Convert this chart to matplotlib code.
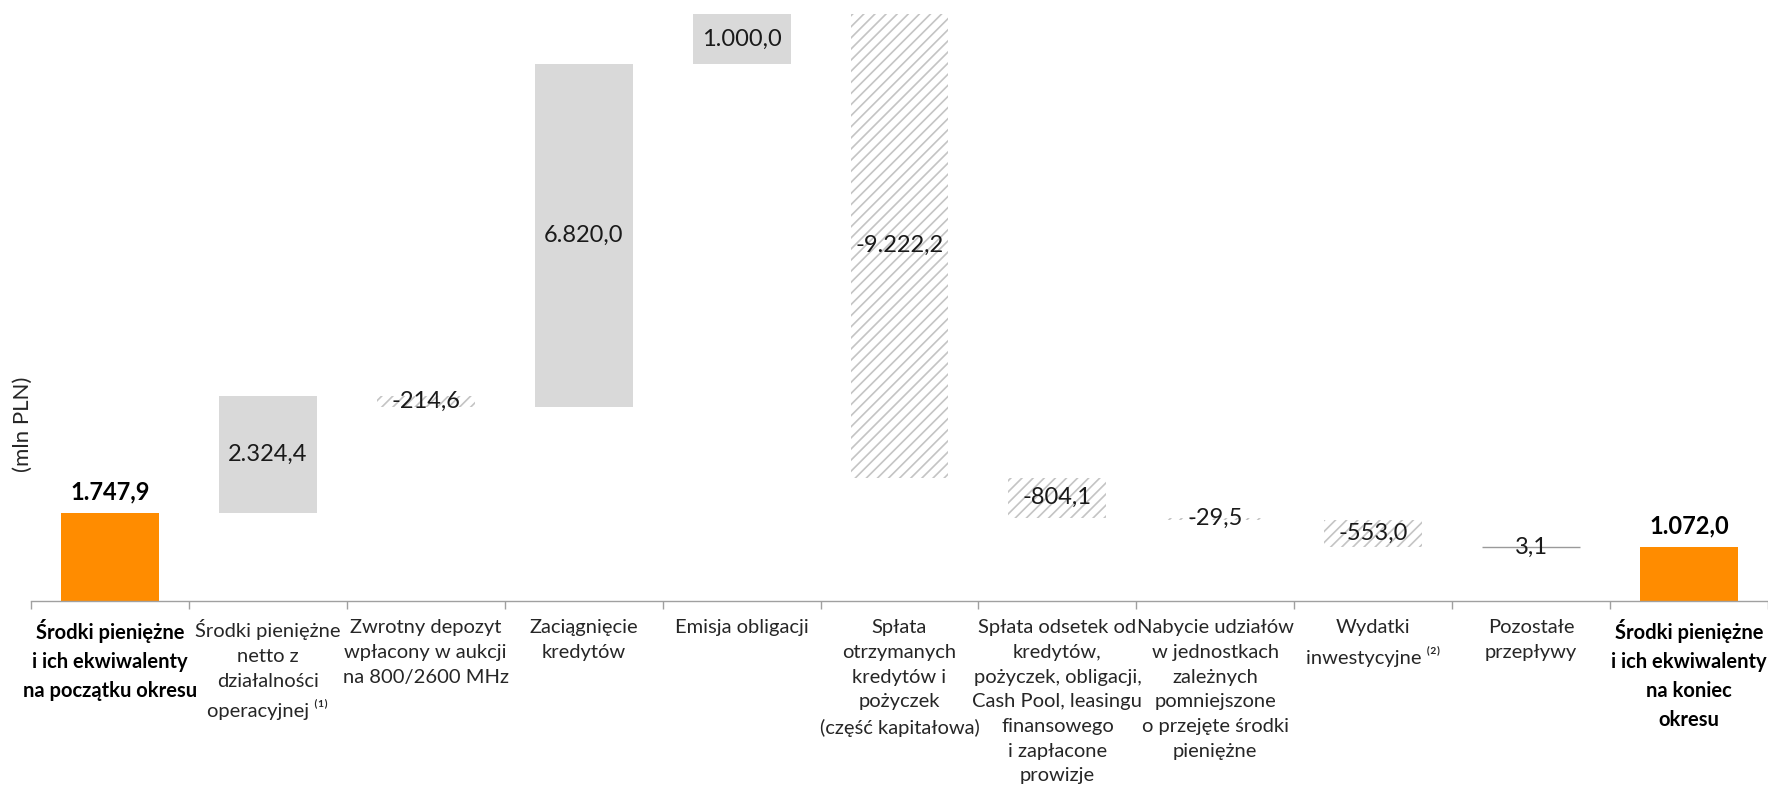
import matplotlib
matplotlib.use("Agg")
import matplotlib.pyplot as plt
import numpy as np

plt.rcParams["font.family"] = ["Lato", "DejaVu Sans"]
plt.rcParams["hatch.linewidth"] = 1.2

# Cash flow bridge (mln PLN)
start_value = 1747.9
end_value = 1072.0
changes = [2324.4, -214.6, 6820.0, 1000.0, -9222.2, -804.1, -29.5, -553.0, 3.1]

categories = [
    "Środki pieniężne\ni ich ekwiwalenty\nna początku okresu",
    "Środki pieniężne\nnetto z\ndziałalności\noperacyjnej ⁽¹⁾",
    "Zwrotny depozyt\nwpłacony w aukcji\nna 800/2600 MHz",
    "Zaciągnięcie\nkredytów",
    "Emisja obligacji",
    "Spłata\notrzymanych\nkredytów i\npożyczek\n(część kapitałowa)",
    "Spłata odsetek od\nkredytów,\npożyczek, obligacji,\nCash Pool, leasingu\nfinansowego\ni zapłacone\nprowizje",
    "Nabycie udziałów\nw jednostkach\nzależnych\npomniejszone\no przejęte środki\npieniężne",
    "Wydatki\ninwestycyjne ⁽²⁾",
    "Pozostałe\nprzepływy",
    "Środki pieniężne\ni ich ekwiwalenty\nna koniec\nokresu",
]


def pl_fmt(v):
    s = f"{v:,.1f}"
    return s.replace(",", " ").replace(".", ",").replace(" ", ".")


orange = "#ff8c00"
grey_fill = "#d9d9d9"
hatch_col = "#c4c4c4"
txt_col = "#1a1a1a"

fig = plt.figure(figsize=(17.68, 7.93), dpi=100)
ax = fig.add_axes([0.0175, 0.242, 0.9825, 0.758])

x = np.arange(len(categories))
w = 0.62

# start / end bars
for xi, v in [(x[0], start_value), (x[-1], end_value)]:
    ax.bar(xi, v, width=w, color=orange, linewidth=0)
    ax.annotate(pl_fmt(v), (xi, v), xytext=(0, 7), textcoords="offset points",
                ha="center", va="bottom", fontsize=17, fontweight="bold", color="black")

# floating bars
level = start_value
for i, d in enumerate(changes):
    xi = x[i + 1]
    lo = level if d >= 0 else level + d
    if d >= 0:
        ec = "#9a9a9a" if d < 50 else grey_fill
        lw = 1.0 if d < 50 else 0
        ax.bar(xi, d, bottom=lo, width=w, color=grey_fill, edgecolor=ec, linewidth=lw)
    else:
        ax.bar(xi, -d, bottom=lo, width=w, color="white", edgecolor=hatch_col,
               hatch="///", linewidth=0)
    ax.text(xi, lo + abs(d) / 2, pl_fmt(d), ha="center", va="center",
            fontsize=17, color=txt_col)
    level += d

ax.set_xlim(-0.5, len(categories) - 0.5)
ax.set_ylim(0, 11950)

for s in ["top", "right", "left"]:
    ax.spines[s].set_visible(False)
ax.spines["bottom"].set_color("#a0a0a0")
ax.spines["bottom"].set_linewidth(1.0)
ax.set_yticks([])

ax.set_xticks(x)
ax.set_xticklabels(categories, fontsize=14.5, color="#262626", linespacing=1.55, va="top")
ax.tick_params(axis="x", which="major", length=0, pad=13)
ax.set_xticks(np.arange(-0.5, len(categories)), minor=True)
ax.tick_params(axis="x", which="minor", length=6, color="#a0a0a0", width=1.0)
for lab in (ax.get_xticklabels()[0], ax.get_xticklabels()[-1]):
    lab.set_fontweight("bold")
    lab.set_color("black")

fig.text(0.013, 1 - 424 / 793, "(mln PLN)", rotation=90, ha="center", va="center",
         fontsize=16, color="#262626")

fig.savefig("out.png", dpi=100)
